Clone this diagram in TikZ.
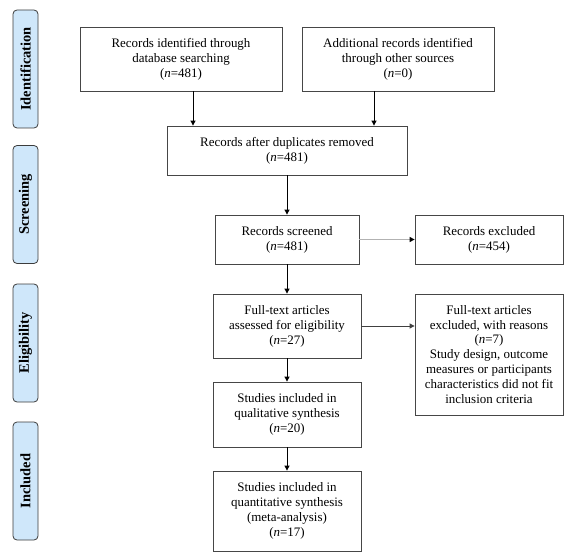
\documentclass[tikz,border=0pt]{standalone}
\usepackage{fontspec}
\setmainfont{Liberation Serif}
\usetikzlibrary{arrows.meta}
\definecolor{sidefill}{RGB}{207,231,250}
\definecolor{sidedraw}{RGB}{60,60,60}
\definecolor{boxdraw}{RGB}{70,70,70}
\begin{document}
\begin{tikzpicture}[x=1bp,y=-1bp,
  box/.style={draw=boxdraw,line width=0.8bp,rectangle,align=center,inner sep=2bp,
    font=\fontsize{13}{15}\selectfont},
  side/.style={draw=sidedraw,fill=sidefill,line width=0.8bp,rounded corners=4bp,
    rotate=90,minimum width=118bp,minimum height=25bp,inner sep=0pt,
    font=\fontsize{14.5}{16}\selectfont\bfseries},
  arr/.style={-{Triangle[length=5bp,width=5bp]},line width=0.9bp,black},
  garr/.style={-{Triangle[length=5bp,width=5bp]},line width=1.2bp,draw=black!30,
    arrows={-{Triangle[length=5bp,width=5bp,color=black]}}}
]
\useasboundingbox (0,0) rectangle (581,558);
% side labels
\node[side] (sid) at (25.5,69) {Identification};
\node[side] (sscr) at (25.5,204.5) {Screening};
\node[side] (selig) at (25.5,343) {Eligibility};
\node[side] (sinc) at (25.5,481) {Included};
% boxes
\node[box,minimum width=202bp,minimum height=64bp] (b1) at (181,59)
  {Records identified through\\database searching\\(\textit{n}=481)};
\node[box,minimum width=192bp,minimum height=64bp] (b2) at (398,59)
  {Additional records identified\\through other sources\\(\textit{n}=0)};
\node[box,minimum width=240bp,minimum height=49bp] (b3) at (287,150.5)
  {Records after duplicates removed\\(\textit{n}=481)};
\node[box,minimum width=144bp,minimum height=49bp] (b4) at (287,239.5)
  {Records screened\\(\textit{n}=481)};
\node[box,minimum width=148bp,minimum height=49bp] (b5) at (489,239.5)
  {Records excluded\\(\textit{n}=454)};
\node[box,minimum width=148bp,minimum height=64bp] (b6) at (287,326)
  {Full-text articles\\assessed for eligibility\\(\textit{n}=27)};
\node[box,minimum width=148bp,minimum height=121bp] (b7) at (489,354.5)
  {Full-text articles\\excluded, with reasons\\(\textit{n}=7)\\Study design, outcome\\measures or participants\\characteristics did not fit\\inclusion criteria};
\node[box,minimum width=148bp,minimum height=65bp] (b8) at (287,414.5)
  {Studies included in\\qualitative synthesis\\(\textit{n}=20)};
\node[box,minimum width=148bp,minimum height=80bp] (b9) at (287,511)
  {Studies included in\\quantitative synthesis\\(meta-analysis)\\(\textit{n}=17)};
% connectors
\draw[arr] ([xshift=12bp]b1.south) -- ([xshift=12bp]b1.south |- b3.north);
\draw[arr] ([xshift=-24bp]b2.south) -- ([xshift=-24bp]b2.south |- b3.north);
\draw[arr] (b3.south) -- (b4.north);
\draw[garr] (b4.east) -- (b5.west);
\draw[arr,draw=black!75] (b6.east) -- (b7.west |- b6.east);
\draw[arr] (b4.south) -- (b6.north);
\draw[arr] (b6.south) -- (b8.north);
\draw[arr] (b8.south) -- (b9.north);
\end{tikzpicture}
\end{document}
